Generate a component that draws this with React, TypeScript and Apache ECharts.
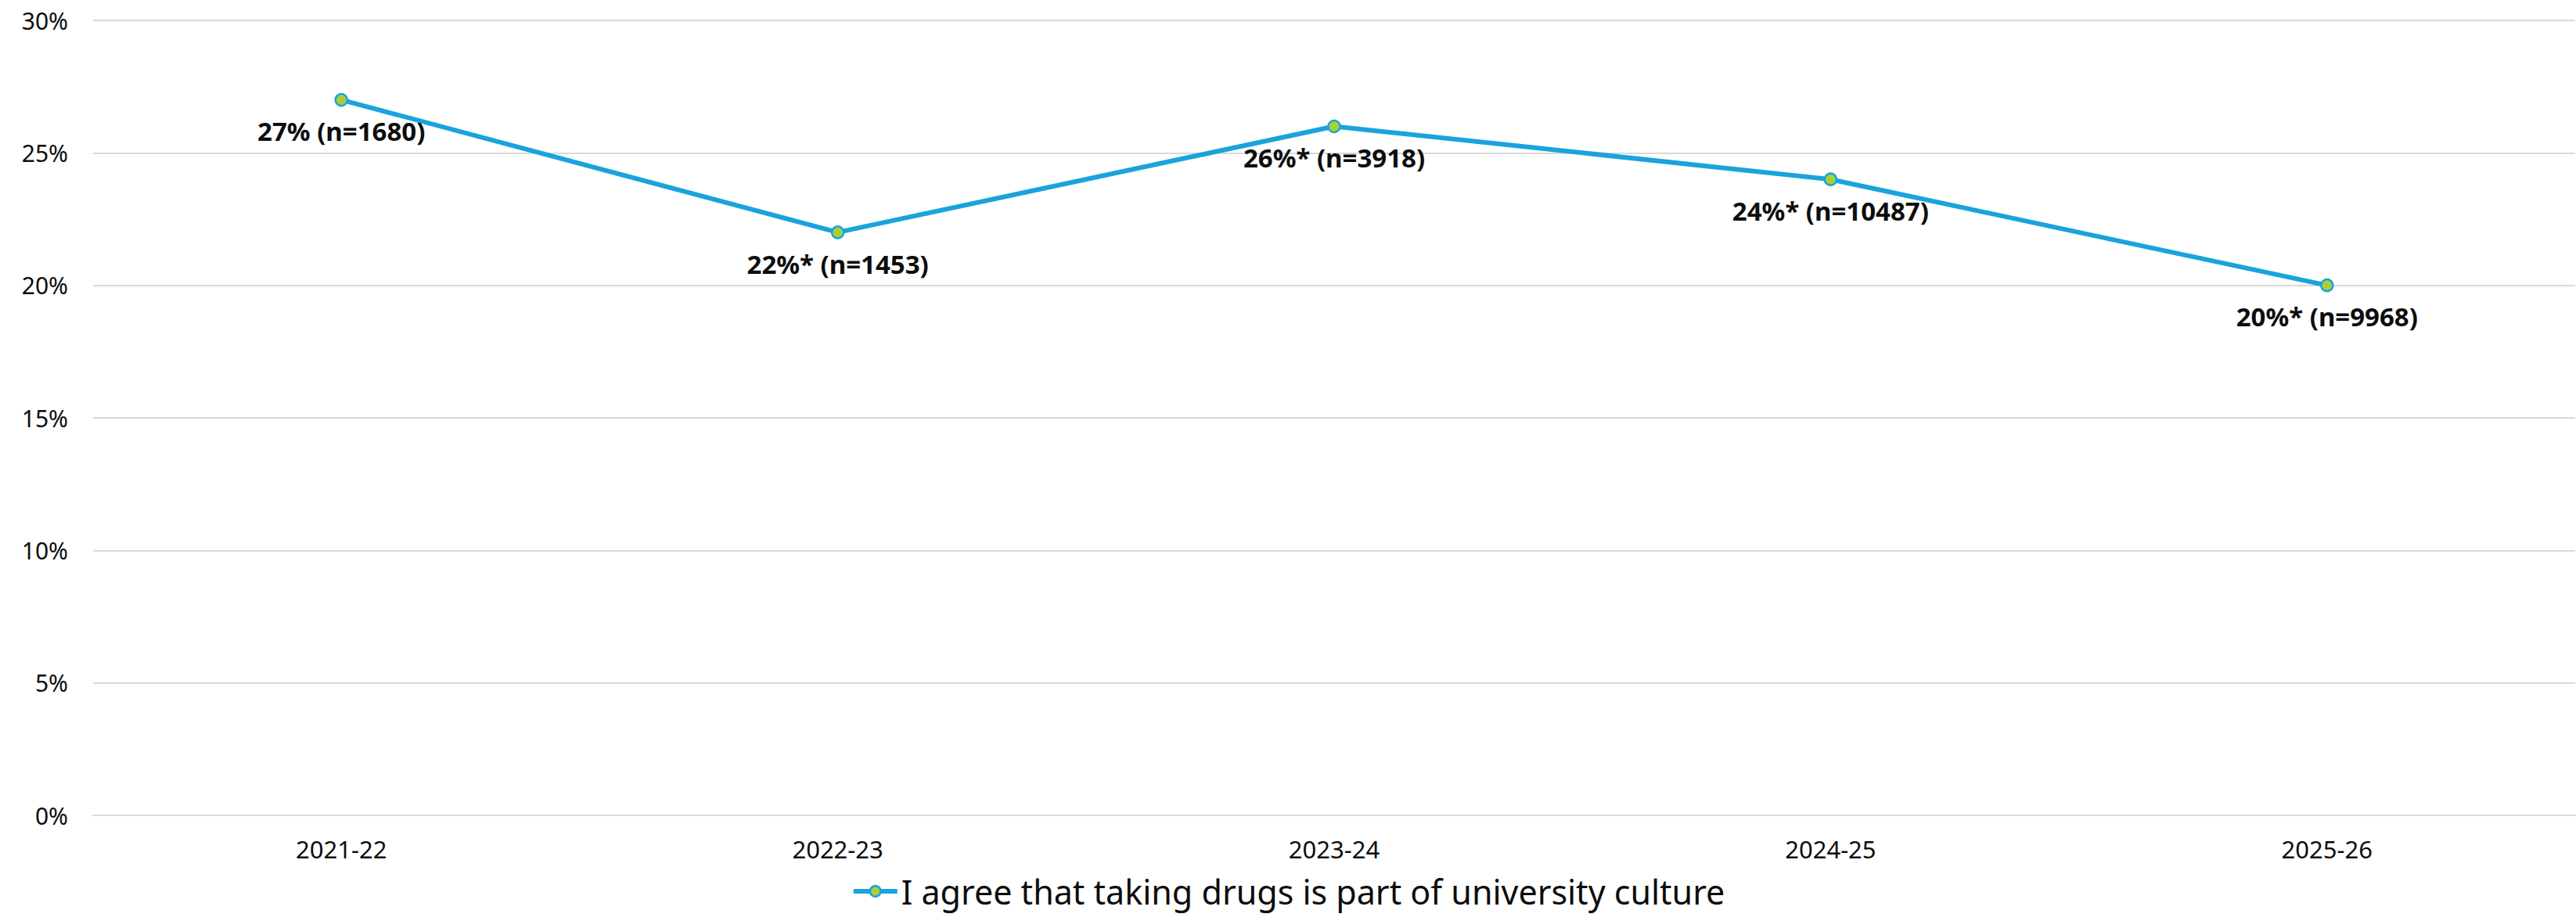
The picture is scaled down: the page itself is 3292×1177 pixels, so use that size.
import React, { useEffect, useRef } from "react";
import * as echarts from "echarts";

const categories = ["2021-22", "2022-23", "2023-24", "2024-25", "2025-26"];
const values = [27, 22, 26, 24, 20];
const dataLabels = ["27% (n=1680)", "22%* (n=1453)", "26%* (n=3918)", "24%* (n=10487)", "20%* (n=9968)"];
const seriesName = "I agree that taking drugs is part of university culture";
const yTicks = { min: 0, max: 30, interval: 5 };

const FONT = "'Noto Sans', 'Open Sans', sans-serif";

export default function App() {
  const ref = useRef<HTMLDivElement>(null);
  useEffect(() => {
    document.body.style.margin = "0";
    const chart = echarts.init(ref.current!, null, { renderer: "svg" });
    chart.setOption({
      animation: false,
      backgroundColor: "#ffffff",
      grid: { left: 119, right: 1, top: 26, bottom: 135, containLabel: false },
      legend: {
        top: 1112,
        left: "center",
        itemWidth: 56,
        itemHeight: 17,
        itemGap: 6,
        lineStyle: { width: 6, color: "#1aa3dc" },
        itemStyle: { color: "#a8cf38", borderColor: "#1aa3dc", borderWidth: 2.5 },
        textStyle: { fontFamily: FONT, fontSize: 43, color: "#0d0d0d", lineHeight: 44 },
        data: [seriesName],
      },
      xAxis: {
        type: "category",
        data: categories,
        boundaryGap: true,
        axisLine: { show: true, lineStyle: { color: "#d9d9d9", width: 2 } },
        axisTick: { show: false },
        axisLabel: { fontFamily: FONT, fontSize: 31, color: "#0d0d0d", margin: 27 },
      },
      yAxis: {
        type: "value",
        min: yTicks.min,
        max: yTicks.max,
        interval: yTicks.interval,
        axisLine: { show: false },
        axisTick: { show: false },
        splitLine: { lineStyle: { color: "#d9d9d9", width: 2 } },
        axisLabel: { fontFamily: FONT, fontSize: 30, color: "#0d0d0d", margin: 32, formatter: "{value}%" },
      },
      series: [
        {
          name: seriesName,
          type: "line",
          data: values,
          symbol: "circle",
          symbolSize: 15,
          lineStyle: { color: "#1aa3dc", width: 6 },
          itemStyle: { color: "#a8cf38", borderColor: "#1aa3dc", borderWidth: 2.5 },
          label: {
            show: true,
            position: "bottom",
            distance: 15,
            fontFamily: FONT,
            fontSize: 33,
            fontWeight: "bold",
            color: "#0d0d0d",
            formatter: (p: any) => dataLabels[p.dataIndex],
          },
        },
      ],
    });
    return () => chart.dispose();
  }, []);
  return <div ref={ref} style={{ width: 3292, height: 1177 }} />;
}
